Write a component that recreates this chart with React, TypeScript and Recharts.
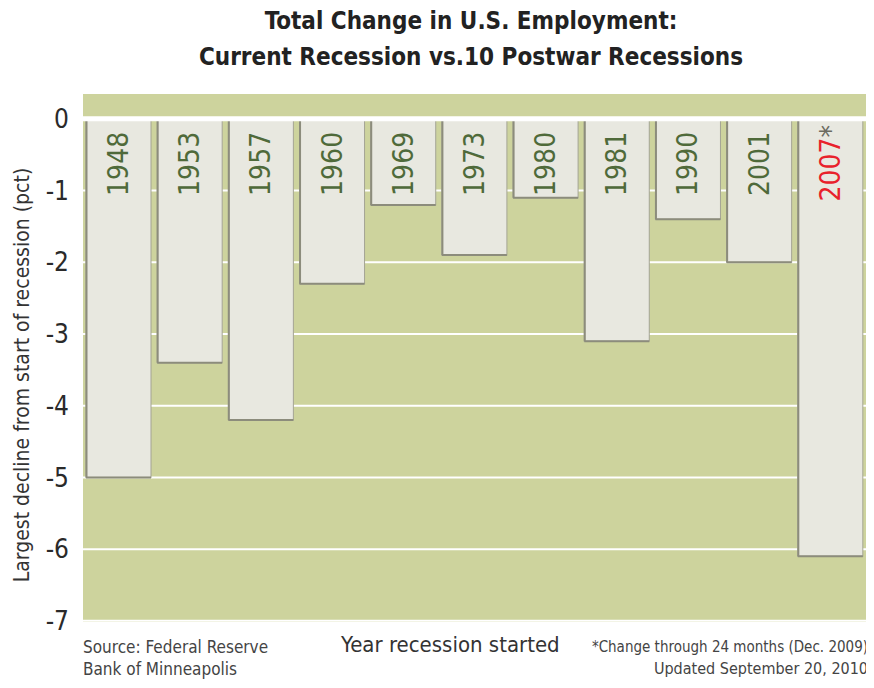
import { BarChart, Bar, XAxis, YAxis, CartesianGrid, ReferenceLine, LabelList } from 'recharts';

// Largest decline in employment from start of each recession (pct)
const years = ['1948', '1953', '1957', '1960', '1969', '1973', '1980', '1981', '1990', '2001', '2007'];
const declines = [-5.0, -3.4, -4.2, -2.3, -1.2, -1.9, -1.1, -3.1, -1.4, -2.0, -6.1];
const yTicks = [0, -1, -2, -3, -4, -5, -6, -7];
const currentYear = '2007';

const data = years.map((year, i) => ({ year, decline: declines[i] }));

const FONT = '"DejaVu Sans Condensed", "DejaVu Sans", sans-serif';

const BarShape = (props: any) => {
  const { x, y, width, height } = props;
  const top = Math.min(y, y + height);
  const h = Math.abs(height);
  return (
    <g>
      <rect x={x} y={top} width={width} height={h} fill="#e8e8e0" stroke="#a4a494" strokeWidth={1} />
      <line x1={x + 0.5} y1={top} x2={x + 0.5} y2={top + h} stroke="#8c8c7c" strokeWidth={2} />
      <line x1={x} y1={top + h} x2={x + width} y2={top + h} stroke="#8c8c7c" strokeWidth={2} />
    </g>
  );
};

const YearLabel = (props: any) => {
  const { x, y, width, height, value } = props;
  const top = Math.min(y, y + height);
  const cx = x + width / 2;
  const isCurrent = value === currentYear;
  const ay = top + (isCurrent ? 6 : 13);
  return (
    <text
      x={cx}
      y={ay}
      transform={`rotate(-90 ${cx} ${ay})`}
      textAnchor="end"
      dominantBaseline="central"
      fontFamily={FONT}
      fontSize={28}
      fill={isCurrent ? '#e8212b' : '#4f6a3a'}
    >
      {value}
      {isCurrent && <tspan fill="#6b6b60">*</tspan>}
    </text>
  );
};

export default function App() {
  return (
    <div style={{ position: 'relative', width: 874, height: 688, margin: -8, background: '#fff', fontFamily: FONT, overflow: 'hidden' }}>
      <div style={{ position: 'absolute', top: 3, left: 0, width: 942, textAlign: 'center', fontSize: 24, fontWeight: 'bold', color: '#222', lineHeight: '36px' }}>
        Total Change in U.S. Employment:
        <br />
        Current Recession vs.10 Postwar Recessions
      </div>
      <BarChart
        width={874}
        height={688}
        data={data}
        margin={{ top: 93, right: 8, bottom: 65, left: 0 }}
        barCategoryGap={3}
      >
        <CartesianGrid vertical={false} stroke="#ffffff" strokeWidth={2} fill="#cdd39d" fillOpacity={1} />
        <XAxis dataKey="year" hide />
        <YAxis
          width={83}
          domain={[-7.03, 0.36]}
          ticks={yTicks}
          allowDataOverflow
          axisLine={false}
          tickLine={false}
          tickMargin={8}
          tick={{ fontSize: 26, fill: '#2a2a2a', fontFamily: FONT }}
        />
        <Bar dataKey="decline" shape={<BarShape />} isAnimationActive={false}>
          <LabelList dataKey="year" content={<YearLabel />} />
        </Bar>
        <ReferenceLine y={0} stroke="#ffffff" strokeWidth={5} />
      </BarChart>
      <div style={{ position: 'absolute', left: 2, top: 375, width: 0, height: 0 }}>
        <div style={{ position: 'absolute', transform: 'translate(-50%, -50%) rotate(-90deg)', whiteSpace: 'nowrap', left: 20, top: 0, fontSize: 21, color: '#333' }}>
          Largest decline from start of recession (pct)
        </div>
      </div>
      <div style={{ position: 'absolute', left: 83, top: 636, fontSize: 17, color: '#444', lineHeight: '22px' }}>
        Source: Federal Reserve
        <br />
        Bank of Minneapolis
      </div>
      <div style={{ position: 'absolute', left: 341, top: 632, fontSize: 22, color: '#333' }}>Year recession started</div>
      <div style={{ position: 'absolute', right: 6, top: 638, fontSize: 15, color: '#444', textAlign: 'right', whiteSpace: 'nowrap' }}>
        *Change through 24 months (Dec. 2009)
      </div>
      <div style={{ position: 'absolute', right: 6, top: 659, fontSize: 16, color: '#444', textAlign: 'right', whiteSpace: 'nowrap' }}>
        Updated September 20, 2010
      </div>
    </div>
  );
}
